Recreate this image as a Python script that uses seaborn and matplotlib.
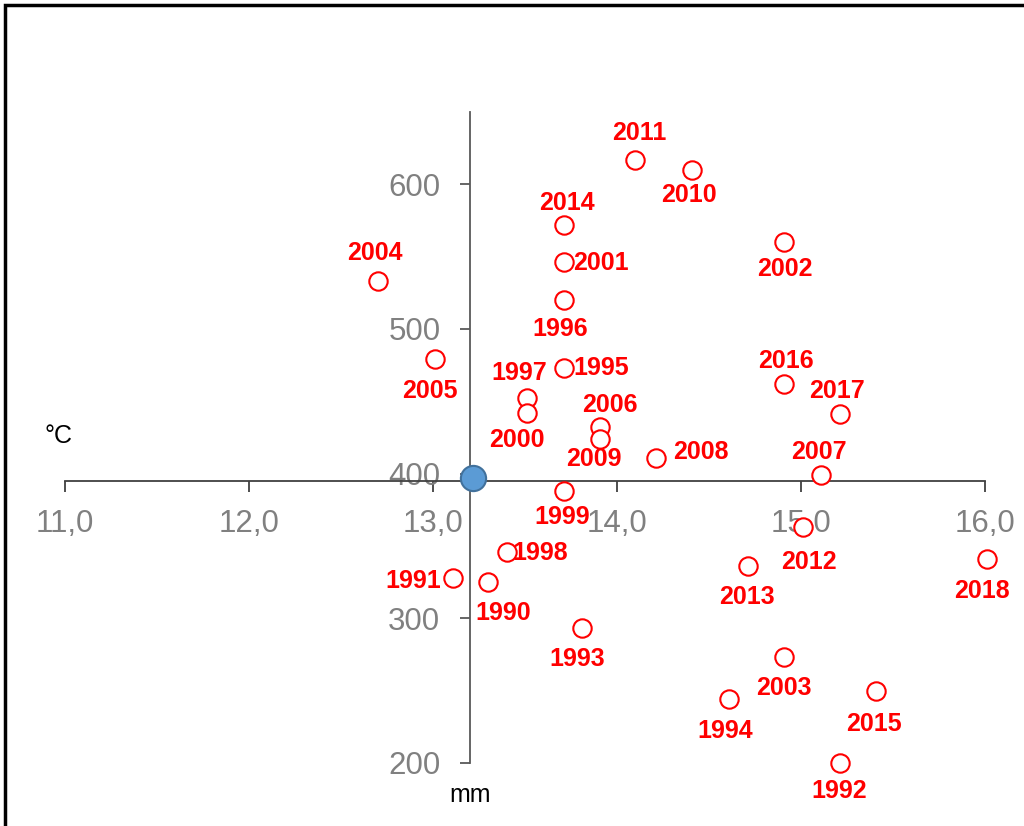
import matplotlib
matplotlib.use("Agg")
import matplotlib.pyplot as plt
import seaborn as sns
import pandas as pd
from matplotlib.patches import Rectangle

sns.set_style("white")
plt.rcParams['font.family'] = ['Liberation Sans', 'DejaVu Sans']

# ---- data ----
years = [2011, 2010, 2014, 2001, 2002, 2004, 1996, 2005, 1995, 2016,
         1997, 2000, 2017, 2006, 2009, 2008, 2007, 1999, 2012, 1998,
         2018, 2013, 1991, 1990, 1993, 2003, 2015, 1994, 1992]
precip_mm = [14.10, 14.41, 13.71, 13.71, 14.91, 12.70, 13.71, 13.01, 13.71, 14.91,
             13.51, 13.51, 15.21, 13.91, 13.91, 14.21, 15.11, 13.71, 15.01, 13.40,
             16.01, 14.71, 13.11, 13.30, 13.81, 14.91, 15.41, 14.61, 15.21]
temp_c = [617, 610, 572, 546, 560, 533, 520, 479, 473, 462,
          452, 442, 441, 432, 424, 411, 399, 388, 363, 346,
          341, 336, 328, 325, 293, 273, 250, 244, 200]
mean_point = (13.22, 397)
axis_cross = (13.2, 395)
x_ticks = [11.0, 12.0, 13.0, 14.0, 15.0, 16.0]
x_tick_labels = ["11,0", "12,0", "13,0", "14,0", "15,0", "16,0"]
y_ticks = [200, 300, 400, 500, 600]
y_tick_labels = ["200", "300", "400", "500", "600"]

# label offsets (pixels, text centre relative to point; +y = downwards)
label_offsets = [(4, -27), (-4, 25), (3, -22), (37, 1), (0, 27), (-3, -28), (-3, 29),
                 (-5, 32), (38, 0), (1, -23), (-8, -25), (-10, 27), (-3, -23), (9, -22),
                 (-7, 20), (45, -6), (-2, -23), (-1, 26), (6, 35), (34, 1), (-5, 32),
                 (-1, 31), (-40, 3), (15, 31), (-5, 31), (-1, 31), (-3, 33), (-4, 32), (0, 28)]

df = pd.DataFrame({"year": years, "mm": precip_mm, "c": temp_c})

fig = plt.figure(figsize=(10.24, 8.26), dpi=100)
ax = fig.add_axes([65/1024, 1 - 763/826, 920/1024, (763 - 112)/826])

sns.scatterplot(data=df, x="mm", y="c", ax=ax, s=175, facecolor="white",
                edgecolor="#FF0000", linewidth=1.5, zorder=3, clip_on=False)
ax.scatter([mean_point[0]], [mean_point[1]], s=330, color="#5B9BD5",
           edgecolor="#41719C", linewidth=1.5, zorder=4, clip_on=False)

for yr, x, y, (dx, dy) in zip(years, precip_mm, temp_c, label_offsets):
    ax.annotate(str(yr), (x, y), xytext=(dx, -dy), textcoords="offset pixels",
                ha="center", va="center", fontsize=18, fontweight="bold",
                color="#FF0000", zorder=5, annotation_clip=False)

ax.set_xlim(11.0, 16.0)
ax.set_ylim(200, 650)
ax.set_xticks(x_ticks)
ax.set_xticklabels(x_tick_labels)
ax.set_yticks(y_ticks)
ax.set_yticklabels(y_tick_labels)
ax.set_xlabel("")
ax.set_ylabel("")

for s in ["top", "right"]:
    ax.spines[s].set_visible(False)
ax.spines["left"].set_position(("data", axis_cross[0]))
ax.spines["bottom"].set_position(("data", axis_cross[1]))
ax.spines["left"].set_color("#595959")
ax.spines["bottom"].set_color("#404040")
ax.spines["left"].set_linewidth(1.3)
ax.spines["bottom"].set_linewidth(1.3)

ax.tick_params(axis="x", direction="out", length=8, width=1.3, color="#404040",
               labelsize=22.5, labelcolor="#808080", pad=12, bottom=True)
ax.tick_params(axis="y", direction="out", length=7.2, width=1.3, color="#595959",
               labelsize=22.5, labelcolor="#808080", pad=14, left=True)

fig.text(59/1024, 1 - 443/826, "°C", fontsize=18, color="black", ha="center", va="baseline")
fig.text(470/1024, 1 - 802/826, "mm", fontsize=18, color="black", ha="center", va="baseline")

fig.patches.append(Rectangle((5/1024, -0.1), 1.1, 1 - 5/826 + 0.1, transform=fig.transFigure,
                             fill=False, edgecolor="black", linewidth=2.5, figure=fig))

fig.savefig("out.png", dpi=100)
